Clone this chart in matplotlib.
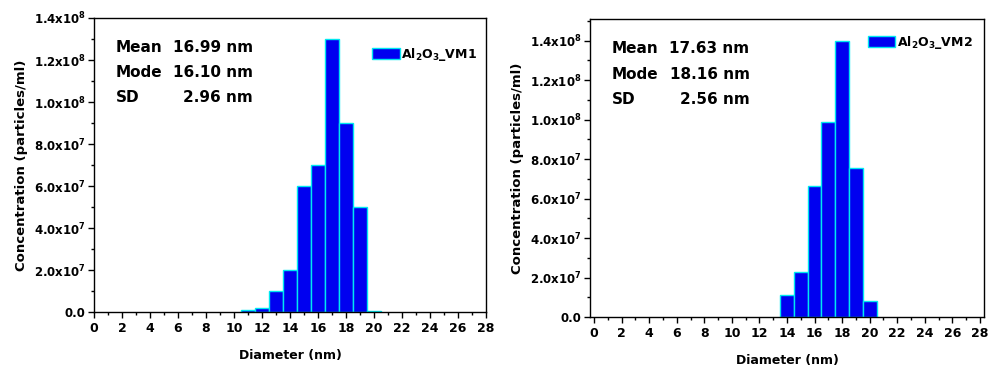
import math
import matplotlib
matplotlib.use("Agg")
import matplotlib.pyplot as plt
from matplotlib.ticker import MultipleLocator, FuncFormatter
from matplotlib.patches import Patch

plt.rcParams['font.family'] = ['DejaVu Sans']
plt.rcParams['font.weight'] = 'bold'
plt.rcParams['mathtext.default'] = 'bf'

# Data
diam = [11, 12, 13, 14, 15, 16, 17, 18, 19, 20]
conc_vm1 = [1.1e6, 1.8e6, 1.0e7, 2.0e7, 6.0e7, 7.0e7, 1.3e8, 9.0e7, 5.0e7, 0.6e6]
diam2 = [14, 15, 16, 17, 18, 19, 20]
conc_vm2 = [1.13e7, 2.27e7, 6.64e7, 9.86e7, 1.40e8, 7.55e7, 0.83e7]
labels = ['Al$_2$O$_3$_VM1', 'Al$_2$O$_3$_VM2']
stats1 = [('Mean', '16.99 nm'), ('Mode', '16.10 nm'), ('SD', '2.96 nm')]
stats2 = [('Mean', '17.63 nm'), ('Mode', '18.16 nm'), ('SD', '2.56 nm')]

W, H = 988, 369
fig = plt.figure(figsize=(W/100, H/100), dpi=100)

def fmt(v, pos):
    if v < 1:
        return '0.0' if abs(v) < 1 else ''
    e = int(math.floor(math.log10(v) + 1e-9))
    m = v / 10**e
    return '%.1fx10$^{%d}$' % (m, e)

def make(rect, x, y, xlim, ylim, label, stats, leg_anchor):
    ax = fig.add_axes(rect)
    ax.bar(x, y, width=1.0, color='#0000F0', edgecolor='#00E8F0', linewidth=1.0)
    ax.set_xlim(*xlim)
    ax.set_ylim(*ylim)
    ax.xaxis.set_major_locator(MultipleLocator(2))
    ax.xaxis.set_minor_locator(MultipleLocator(1))
    ax.yaxis.set_major_locator(MultipleLocator(2e7))
    ax.yaxis.set_minor_locator(MultipleLocator(1e7))
    ax.yaxis.set_major_formatter(FuncFormatter(fmt))
    ax.tick_params(axis='both', which='major', direction='out', length=4, width=1,
                   labelsize=9, top=False, right=False)
    ax.tick_params(axis='both', which='minor', direction='out', length=2.5, width=1,
                   top=False, right=False)
    ax.tick_params(axis='y', labelsize=8.5, pad=2)
    for s in ax.spines.values():
        s.set_linewidth(1.0)
    ax.set_xlabel('Diameter (nm)', fontsize=9, fontweight='bold', labelpad=10)
    ax.set_ylabel('Concentration (particles/ml)', fontsize=9.5, fontweight='bold', labelpad=4)
    ys = [0.90, 0.815, 0.73]
    for (k, v), yy in zip(stats, ys):
        ax.text(0.055, yy, k, transform=ax.transAxes, fontsize=11, fontweight='bold',
                va='center', ha='left')
        ax.text(0.405, yy, v, transform=ax.transAxes, fontsize=11, fontweight='bold',
                va='center', ha='right')
    h = Patch(facecolor='#0000F0', edgecolor='#00E8F0', linewidth=1.0)
    ax.legend([h], [label], loc='upper left', bbox_to_anchor=leg_anchor, frameon=False,
              fontsize=9, handlelength=2.2, handleheight=0.9, handletextpad=0.1,
              borderaxespad=0, borderpad=0)
    return ax

ax1 = make([94/W, 1-312/H, 392/W, 294/H], diam, conc_vm1, (0, 28), (0, 1.4e8),
           labels[0], stats1, (0.71, 0.905))
ax2 = make([590/W, 1-317/H, 394/W, 298/H], diam2, conc_vm2, (-0.3, 28.3), (0, 1.51e8),
           labels[1], stats2, (0.705, 0.95))

fig.savefig('out.png', dpi=100)
